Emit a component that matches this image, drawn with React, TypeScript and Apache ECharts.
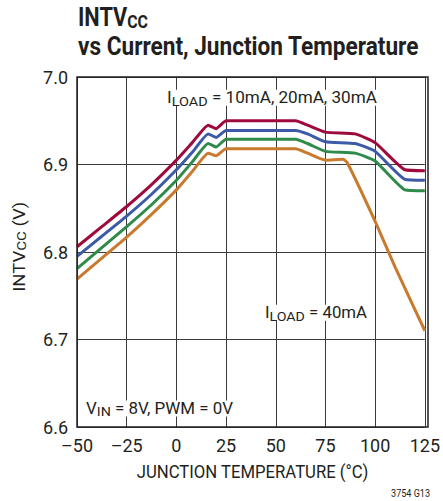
import React, { useEffect, useRef } from "react";
import * as echarts from "echarts";

// Junction temperature (°C) sample points
const temps = [-50, -37.5, -25, -12.5, 0, 8, 16, 20, 25, 60, 66, 75, 90, 100, 115, 125];
// INTVcc (V) at ILOAD = 10mA, 20mA, 30mA
const load10 = [6.806, 6.829, 6.852, 6.877, 6.905, 6.925, 6.945, 6.941, 6.950, 6.950, 6.945, 6.937, 6.935, 6.925, 6.894, 6.893];
const load20 = [6.795, 6.818, 6.841, 6.866, 6.894, 6.914, 6.935, 6.931, 6.939, 6.939, 6.935, 6.926, 6.924, 6.915, 6.883, 6.882];
const load30 = [6.781, 6.805, 6.829, 6.854, 6.882, 6.903, 6.924, 6.920, 6.929, 6.929, 6.924, 6.915, 6.913, 6.904, 6.871, 6.870];
// ILOAD = 40mA
const temps40 = [-50, -37.5, -25, -12.5, 0, 8, 16, 20, 25, 60, 66, 75, 84, 86, 100, 110, 125];
const load40 = [6.769, 6.793, 6.817, 6.843, 6.871, 6.892, 6.913, 6.910, 6.918, 6.918, 6.913, 6.905, 6.906, 6.902, 6.835, 6.783, 6.710];

const seriesNames = ["10mA", "20mA", "30mA", "40mA"];
const seriesColors = ["#9e0a3c", "#3c5aa8", "#2f8b4a", "#c87a2e"];

const xMin = -50, xMax = 125, xStep = 25;
const yMin = 6.6, yMax = 7.0, yStep = 0.1;

const FONT = "Roboto, 'Liberation Sans', sans-serif";
const INK = "#231f20";

const pair = (xs: number[], ys: number[]) => xs.map((x, i) => [x, ys[i]]);

let ctx: CanvasRenderingContext2D | null = null;
function measure(text: string, size: number, weight: string) {
  if (!ctx) ctx = document.createElement("canvas").getContext("2d");
  if (!ctx) return text.length * size * 0.5;
  ctx.font = `${weight} ${size}px Roboto`;
  return ctx.measureText(text).width;
}

type Part = [string, boolean];

// text with subscripts; baseline = main text baseline; width = target width (horizontal compression)
function subText(
  parts: Part[],
  opts: { x: number; baseline?: number; y?: number; size: number; subSize: number; drop: number; width: number; weight?: string; align?: string; rotation?: number; bg?: boolean }
) {
  const weight = opts.weight || "normal";
  const natural = parts.reduce((s, [t, sub]) => s + measure(t, sub ? opts.subSize : opts.size, weight), 0);
  const scaleX = opts.width / natural;
  const padTop = opts.drop + 0.85 * (opts.size - opts.subSize);
  const y = opts.y !== undefined ? opts.y : (opts.baseline as number) - 0.85 * opts.size;
  return {
    type: "text",
    x: opts.x,
    y,
    z: 50,
    scaleX,
    rotation: opts.rotation || 0,
    style: {
      text: parts.map(([t, sub]) => `{${sub ? "s" : "m"}|${t}}`).join(""),
      verticalAlign: "top",
      align: opts.align || "left",
      backgroundColor: opts.bg ? "#fff" : "transparent",
      rich: {
        m: { fontSize: opts.size, lineHeight: opts.size, verticalAlign: "top", fontFamily: FONT, fontWeight: weight, fill: INK },
        s: { fontSize: opts.subSize, lineHeight: opts.subSize, verticalAlign: "top", padding: [padTop, 0, 0, 0], fontFamily: FONT, fontWeight: weight, fill: INK },
      },
    },
  };
}

export default function App() {
  const ref = useRef<HTMLDivElement>(null);
  useEffect(() => {
    if (!ref.current) return;
    const chart = echarts.init(ref.current, undefined, { renderer: "svg" });
    const data = [pair(temps, load10), pair(temps, load20), pair(temps, load30), pair(temps40, load40)];
    chart.setOption({
      animation: false,
      backgroundColor: "#fff",
      grid: { left: 77, top: 77, width: 351, height: 350, show: false },
      xAxis: {
        type: "value",
        min: xMin,
        max: xMax,
        interval: xStep,
        axisLine: { show: false },
        axisTick: { show: false },
        splitLine: { show: true, lineStyle: { color: "#3a3a3a", width: 1 } },
        axisLabel: {
          margin: 9,
          fontSize: 18,
          fontFamily: FONT,
          color: INK,
          formatter: (v: number) => String(v).replace("-", "\u2013"),
        },
      },
      yAxis: {
        type: "value",
        min: yMin,
        max: yMax,
        interval: yStep,
        axisLine: { show: false },
        axisTick: { show: false },
        splitLine: { show: true, lineStyle: { color: "#3a3a3a", width: 1 } },
        axisLabel: {
          margin: 9,
          fontSize: 18,
          fontFamily: FONT,
          color: INK,
          formatter: (v: number) => v.toFixed(1),
        },
      },
      series: data.map((d, i) => ({
        type: "line",
        name: seriesNames[i],
        data: d,
        symbol: "none",
        smooth: 0.15,
        z: 3,
        lineStyle: { color: seriesColors[i], width: 3 },
      })),
      graphic: [
        {
          type: "rect",
          z: 60,
          shape: { x: 77, y: 77, width: 351, height: 350 },
          style: { fill: "none", stroke: INK, lineWidth: 1.5 },
        },
        subText([["INTV", false], ["CC", true]], { x: 78, baseline: 26.7, size: 26, subSize: 19, drop: 1.5, width: 70, weight: "bold" }),
        subText([["vs Current, Junction Temperature", false]], { x: 78, baseline: 55, size: 26, subSize: 19, drop: 0, width: 341, weight: "bold" }),
        subText([["I", false], ["LOAD", true], [" = 10mA, 20mA, 30mA", false]], { x: 167, baseline: 103.3, size: 16, subSize: 13.5, drop: 2, width: 210, bg: true }),
        subText([["I", false], ["LOAD", true], [" = 40mA", false]], { x: 265, baseline: 318.3, size: 16, subSize: 13.5, drop: 2, width: 102, bg: true }),
        subText([["V", false], ["IN", true], [" = 8V, PWM = 0V", false]], { x: 86, baseline: 414, size: 16, subSize: 13.5, drop: 2, width: 147, bg: true }),
        subText([["INTV", false], ["CC", true], [" (V)", false]], { x: 11, y: 246.7, size: 16.5, subSize: 13.5, drop: 1, width: 90, align: "center", rotation: Math.PI / 2 }),
        subText([["JUNCTION TEMPERATURE (\u00b0C)", false]], { x: 252.5, baseline: 478.3, size: 18.5, subSize: 14, drop: 0, width: 232, align: "center" }),
        subText([["3754 G13", false]], { x: 430, baseline: 496.5, size: 10.5, subSize: 8, drop: 0, width: 39, align: "right" }),
      ],
    });
    return () => chart.dispose();
  }, []);
  return <div ref={ref} style={{ position: "fixed", left: 0, top: 0, width: 443, height: 501 }} />;
}
